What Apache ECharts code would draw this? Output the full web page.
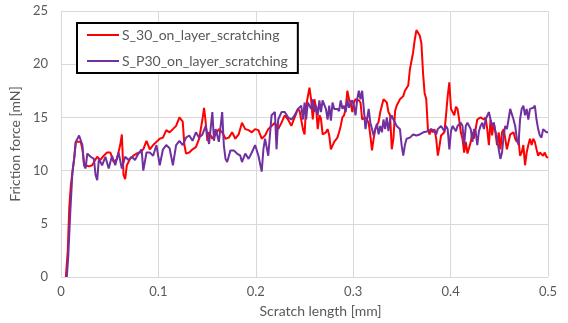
<!DOCTYPE html>
<html>
<head>
<meta charset="utf-8">
<script src="https://cdn.jsdelivr.net/npm/echarts@6/dist/echarts.min.js"></script>
<style>
html,body{margin:0;padding:0;background:#fff;}
#chart{width:568px;height:323px;}
</style>
</head>
<body>
<div id="chart"></div>
<script>
// Series names
var seriesNames = ['S_30_on_layer_scratching', 'S_P30_on_layer_scratching'];

// S_30 (red): scratch length [mm]
var redX = [0.005,0.007,0.0085,0.0101,0.0135,0.0152,0.0169,0.0203,0.022,0.0236,0.0253,0.0287,0.0321,0.0338,0.0372,0.0405,0.0439,0.0473,0.0507,0.0541,0.0574,0.0608,0.0625,0.0642,0.0659,0.0676,0.071,0.0743,0.0777,0.0811,0.0845,0.0878,0.0912,0.0946,0.098,0.1014,0.1047,0.1081,0.1115,0.1149,0.1182,0.1216,0.125,0.1267,0.1284,0.1317,0.1351,0.1385,0.1419,0.1452,0.1469,0.1486,0.1503,0.152,0.1554,0.1588,0.1621,0.1655,0.1689,0.1723,0.1757,0.179,0.1824,0.1858,0.1892,0.1926,0.1959,0.1993,0.2027,0.2061,0.2095,0.2128,0.2162,0.2196,0.223,0.2264,0.2297,0.2331,0.2365,0.2399,0.2433,0.245,0.2484,0.2501,0.2517,0.2551,0.2568,0.2585,0.2602,0.2619,0.2636,0.2653,0.2669,0.2686,0.272,0.2737,0.2754,0.2771,0.2788,0.2805,0.2838,0.2855,0.2872,0.2889,0.2906,0.2923,0.294,0.2957,0.2974,0.2991,0.3007,0.3024,0.3058,0.3075,0.3092,0.3126,0.3159,0.3176,0.3193,0.321,0.3227,0.3261,0.3278,0.3294,0.3311,0.3345,0.3362,0.3379,0.3396,0.3413,0.343,0.3446,0.348,0.3514,0.3531,0.3565,0.3582,0.3599,0.3615,0.3632,0.3649,0.3666,0.3683,0.37,0.3717,0.3733,0.375,0.3767,0.3784,0.3801,0.3818,0.3835,0.3852,0.3869,0.3886,0.3902,0.3936,0.3953,0.397,0.3987,0.4004,0.4038,0.4055,0.4071,0.4088,0.4105,0.4122,0.4139,0.4156,0.4173,0.419,0.4207,0.4224,0.424,0.4274,0.4308,0.4342,0.4359,0.4376,0.4393,0.441,0.4426,0.4443,0.446,0.4477,0.4494,0.4511,0.4528,0.4545,0.4561,0.4578,0.4612,0.4646,0.4663,0.468,0.4697,0.4713,0.473,0.4747,0.4764,0.4781,0.4798,0.4815,0.4832,0.4849,0.4865,0.4882,0.4899,0.4916,0.4933,0.495,0.4967,0.4984,0.5];
// S_30 (red): friction force [mN]
var redY = [0,2.5,6.5,8.6,11.1,12.7,12.7,12.7,12.0,10.8,10.5,10.4,10.5,10.8,11.3,11.0,11.4,11.7,11.7,10.8,11.1,12.4,13.4,9.6,9.2,10.5,11.1,11.4,11.6,11.7,12.0,12.8,12.0,12.4,12.7,13.0,13.1,13.8,13.6,13.9,14.2,15.0,14.6,12.4,11.6,11.7,12.0,12.2,13.0,14.8,15.9,14.5,12.8,13.6,13.0,13.4,13.9,13.6,13.0,13.1,13.6,13.0,13.4,14.5,13.9,13.8,13.6,13.9,13.8,13.0,13.3,13.9,14.2,14.5,13.9,14.5,15.2,14.8,14.2,15.0,15.8,15.6,13.9,13.4,16.1,17.8,16.7,14.8,16.7,15.9,13.9,15.2,14.9,13.4,13.6,13.9,13.3,12.0,11.9,12.7,13.1,13.6,14.2,15.0,15.2,15.8,17.5,16.7,16.4,15.5,16.4,16.7,16.6,16.4,14.8,15.0,14.5,13.3,11.9,13.0,13.9,14.6,15.5,16.1,16.7,16.4,15.5,15.2,12.0,13.0,15.6,16.1,16.7,17.0,17.5,18.0,19.5,19.5,21.1,22.3,23.2,23.2,22.7,22.0,19.2,17.3,16.7,13.9,13.4,13.9,13.6,13.9,13.0,11.4,12.3,13.3,13.6,15.2,17.0,18.3,15.8,15.2,16.0,15.8,14.8,13.6,13.0,11.7,12.7,11.6,11.6,12.7,13.6,13.0,14.8,15.0,14.8,15.0,13.9,12.4,14.8,13.3,14.5,13.6,12.4,13.6,12.0,13.6,13.9,13.0,12.0,13.4,13.6,13.0,12.7,13.0,11.4,11.7,12.4,10.5,11.7,12.4,13.0,12.4,13.0,12.7,12.0,11.4,11.7,11.6,11.4,11.7,11.3,11.2];

// S_P30 (purple): scratch length [mm]
var purpleX = [0.006,0.0075,0.0095,0.0118,0.0135,0.0152,0.0186,0.0203,0.022,0.0236,0.0253,0.027,0.0304,0.0338,0.0355,0.0372,0.0389,0.0422,0.0456,0.049,0.0524,0.0557,0.0591,0.0625,0.0659,0.0693,0.0726,0.076,0.0794,0.0828,0.0845,0.0878,0.0912,0.0946,0.098,0.1014,0.1047,0.1081,0.1115,0.1149,0.1182,0.1216,0.125,0.1284,0.1317,0.1351,0.1385,0.1419,0.1452,0.1486,0.152,0.1554,0.1571,0.1588,0.1621,0.1655,0.1672,0.1689,0.1706,0.174,0.1774,0.1807,0.1841,0.1858,0.1892,0.1926,0.1959,0.1993,0.2027,0.2061,0.2078,0.2095,0.2128,0.2162,0.2196,0.2213,0.223,0.2264,0.2297,0.2331,0.2365,0.2399,0.2433,0.2467,0.2484,0.2501,0.2517,0.2534,0.2568,0.2585,0.2602,0.2619,0.2636,0.2653,0.2669,0.2686,0.272,0.2737,0.2754,0.2771,0.2788,0.2805,0.2838,0.2855,0.2872,0.2889,0.2906,0.2923,0.294,0.2957,0.2974,0.2991,0.3007,0.3024,0.3041,0.3058,0.3075,0.3092,0.3109,0.3126,0.3142,0.3159,0.3176,0.3193,0.321,0.3227,0.3244,0.3261,0.3278,0.3295,0.3311,0.3328,0.3345,0.3362,0.3379,0.3396,0.3413,0.343,0.3446,0.348,0.3497,0.3514,0.3531,0.3548,0.3582,0.3615,0.3649,0.3683,0.372,0.3767,0.3801,0.3835,0.3852,0.3868,0.3902,0.3936,0.3953,0.397,0.3987,0.4004,0.4021,0.4055,0.4071,0.4105,0.4122,0.4139,0.4156,0.4173,0.4207,0.4224,0.424,0.4257,0.4274,0.4291,0.4308,0.4325,0.4342,0.4359,0.4393,0.441,0.4426,0.4443,0.446,0.4477,0.4494,0.4511,0.4528,0.4545,0.4561,0.4578,0.4595,0.4612,0.4629,0.4646,0.4663,0.468,0.4697,0.4713,0.473,0.4747,0.4764,0.4781,0.4798,0.4815,0.4849,0.4865,0.4882,0.4899,0.4916,0.4933,0.495,0.4967,0.4984,0.5];
// S_P30 (purple): friction force [mN]
var purpleY = [0,2.0,6.0,9.9,11.1,12.7,13.3,13.4,12.4,10.5,10.2,11.6,11.3,11.1,9.6,9.1,11.1,10.5,11.3,10.2,11.4,10.5,11.7,10.2,11.3,11.0,11.3,11.0,11.6,12.0,10.0,11.7,11.7,11.4,12.4,10.5,12.0,12.4,12.1,10.5,12.4,12.8,12.4,13.1,13.3,12.8,13.6,13.1,13.4,14.2,12.5,15.5,12.8,13.9,12.7,15.5,12.4,11.1,10.8,11.9,11.9,11.6,11.4,10.8,11.6,11.1,11.7,12.4,11.4,9.9,12.0,13.0,11.4,15.2,15.5,12.0,14.8,15.5,15.5,15.0,14.8,15.2,15.8,16.1,14.8,16.4,14.8,16.4,15.8,16.7,15.5,16.1,15.2,16.6,15.5,16.6,15.8,14.8,16.1,14.7,16.4,15.8,15.8,15.6,16.6,15.8,16.1,15.5,16.7,15.9,16.4,16.6,16.1,15.2,16.7,17.5,16.7,17.5,15.8,13.9,14.8,15.8,14.5,13.9,13.3,13.9,14.4,13.4,14.2,13.6,14.8,13.9,15.0,13.7,14.8,15.2,14.8,14.5,14.2,13.9,12.4,11.4,12.4,13.0,13.1,13.4,13.3,13.4,13.6,13.7,13.9,13.7,13.4,13.9,14.2,13.7,14.2,13.9,12.0,13.7,14.2,13.7,14.2,14.5,14.2,12.4,14.2,14.5,13.9,12.7,13.9,13.7,12.4,13.7,14.2,14.5,13.9,14.8,15.5,14.8,14.2,14.5,13.7,13.0,12.0,11.1,11.7,13.3,14.2,13.9,14.8,15.8,15.9,14.8,14.2,13.0,12.4,14.8,15.8,16.1,15.2,15.8,14.8,15.8,15.9,16.1,14.8,13.9,13.3,13.1,13.9,13.9,13.6,13.6];

// Axis ticks
var xTicks = {min: 0, max: 0.5, interval: 0.1};
var yTicks = {min: 0, max: 25, interval: 5};

function zip(xs, ys) {
  var out = [];
  for (var i = 0; i < xs.length; i++) out.push([xs[i], ys[i]]);
  return out;
}

var chart = echarts.init(document.getElementById('chart'), null, {renderer: 'canvas'});
var font = 'Lato, "Liberation Sans", sans-serif';
var gridColor = '#d9d9d9';
var textColor = '#595959';
var lineIcon = 'path://M0,0 L32,0 L32,2 L0,2 Z';

chart.setOption({
  animation: false,
  backgroundColor: '#ffffff',
  grid: {left: 55, right: 20, top: 11, bottom: 44, containLabel: false},
  legend: {
    orient: 'vertical',
    left: 77,
    top: 23,
    padding: [5, 10, 5, 10],
    itemGap: 12,
    itemWidth: 32,
    itemHeight: 14,
    symbolKeepAspect: true,
    borderColor: '#000000',
    borderWidth: 2,
    backgroundColor: '#ffffff',
    textStyle: {fontFamily: font, fontSize: 14, color: textColor, padding: [0, 0, 0, -2]},
    data: [
      {name: seriesNames[0], icon: lineIcon},
      {name: seriesNames[1], icon: lineIcon}
    ]
  },
  xAxis: {
    type: 'value',
    min: xTicks.min, max: xTicks.max, interval: xTicks.interval,
    name: 'Scratch length [mm]',
    nameLocation: 'middle',
    nameGap: 27,
    nameTextStyle: {fontFamily: font, fontSize: 14, color: textColor, padding: [0, 0, 0, 32]},
    axisLine: {show: false},
    axisTick: {show: false},
    axisLabel: {fontFamily: font, fontSize: 13, color: textColor, margin: 8},
    splitLine: {show: true, lineStyle: {color: gridColor, width: 1}}
  },
  yAxis: {
    type: 'value',
    min: yTicks.min, max: yTicks.max, interval: yTicks.interval,
    name: 'Friction force [mN]',
    nameLocation: 'middle',
    nameGap: 34,
    nameTextStyle: {fontFamily: font, fontSize: 14, color: textColor},
    axisLine: {show: false},
    axisTick: {show: false},
    axisLabel: {fontFamily: font, fontSize: 13, color: textColor, margin: 13},
    splitLine: {show: true, lineStyle: {color: gridColor, width: 1}}
  },
  series: [
    {
      name: seriesNames[0],
      type: 'line',
      data: zip(redX, redY),
      symbol: 'none',
      lineStyle: {color: '#ff0000', width: 2},
      itemStyle: {color: '#ff0000'},
      z: 2
    },
    {
      name: seriesNames[1],
      type: 'line',
      data: zip(purpleX, purpleY),
      symbol: 'none',
      lineStyle: {color: '#7030a0', width: 2},
      itemStyle: {color: '#7030a0'},
      z: 3
    }
  ]
});
</script>
</body>
</html>
